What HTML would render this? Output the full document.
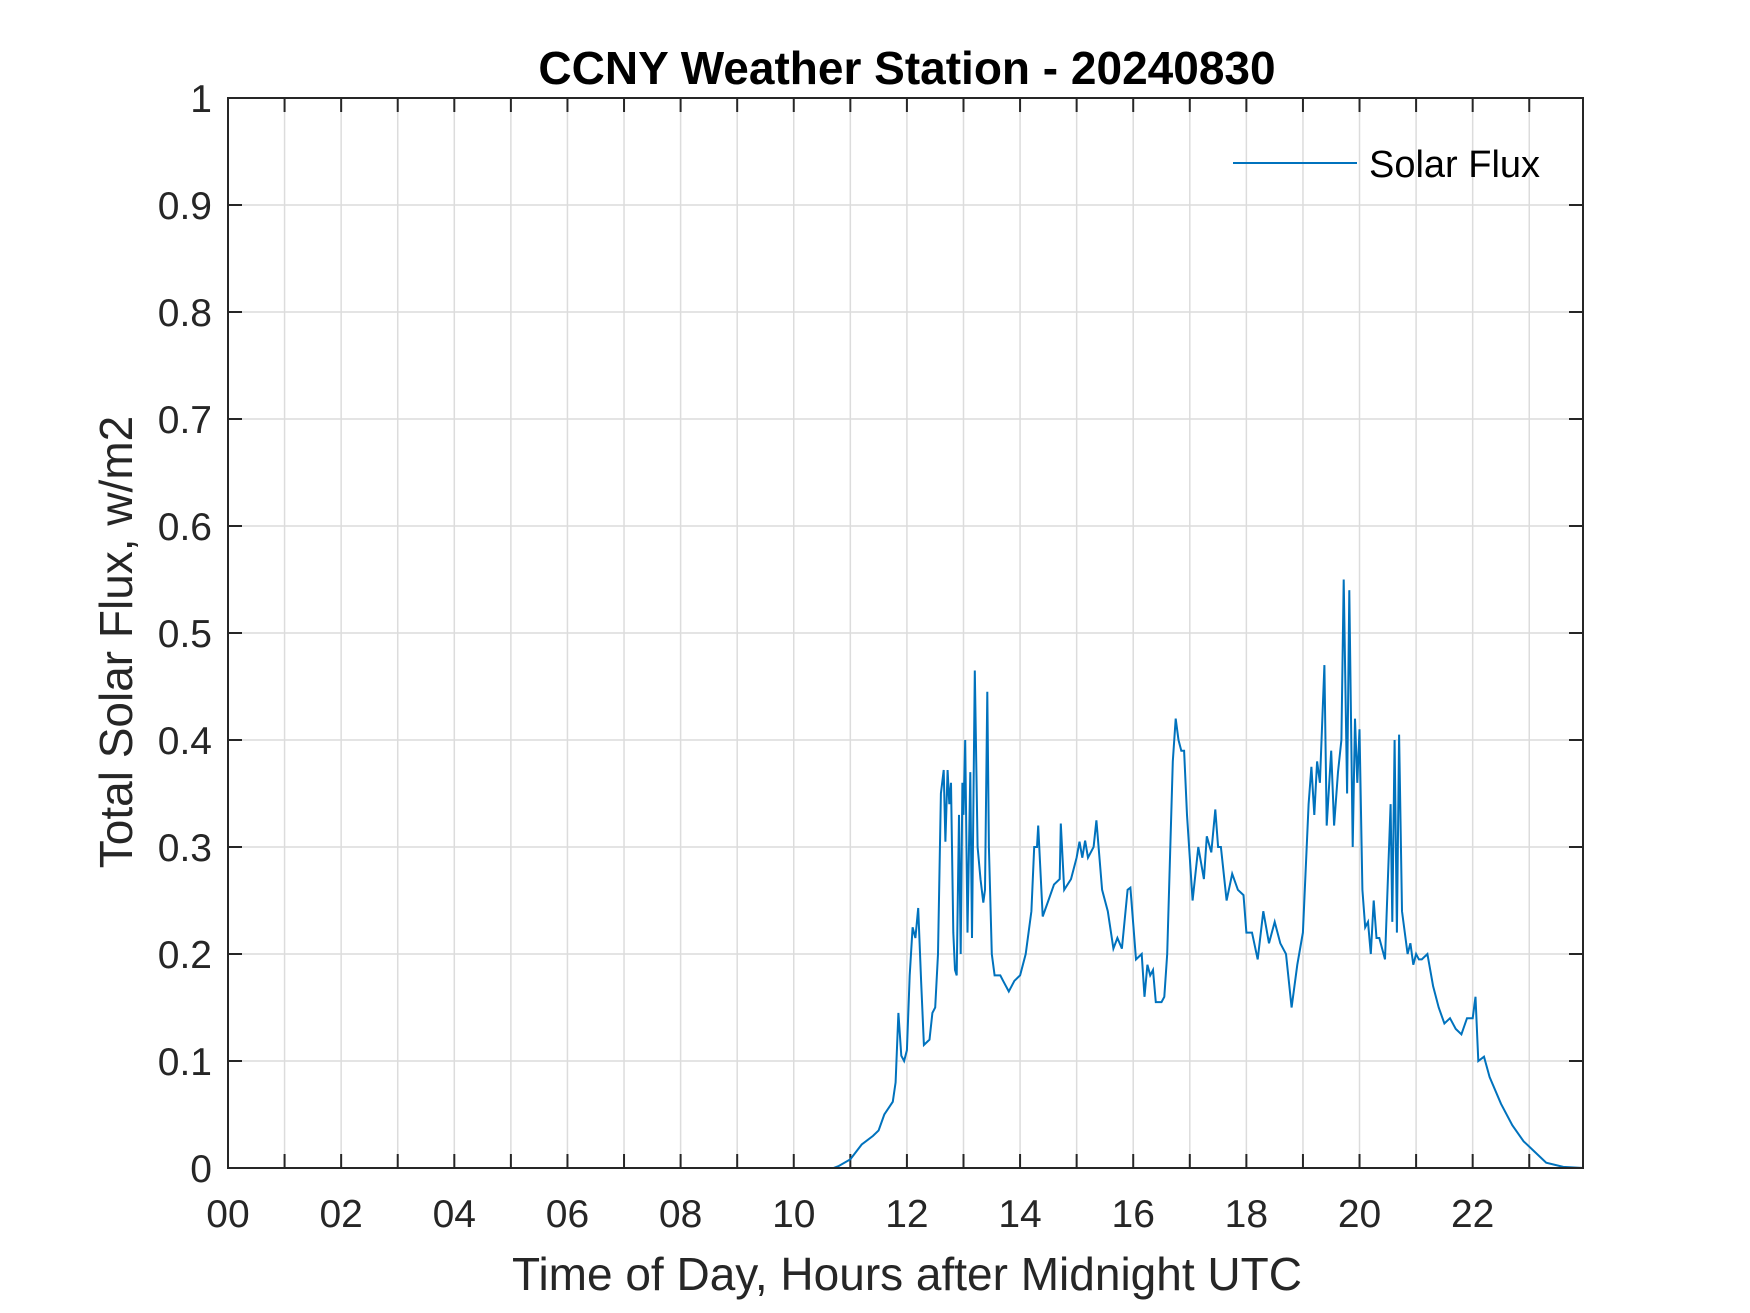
<!DOCTYPE html>
<html><head><meta charset="utf-8"><style>
html,body{margin:0;padding:0;background:#fff;}
svg{display:block;font-family:"Liberation Sans",Arial,sans-serif;}
</style></head><body>
<svg id="chart" width="1750" height="1313" viewBox="0 0 1750 1313" xmlns="http://www.w3.org/2000/svg">
<rect width="1750" height="1313" fill="#fff"/>
<g id="grid"></g>
<g id="ticks"></g>
<path id="series" fill="none" stroke="#0072BD" stroke-width="2"/>
<rect x="228" y="98" width="1355" height="1070" fill="none" stroke="#262626" stroke-width="2"/>
<text x="907" y="84" font-size="46" font-weight="bold" text-anchor="middle" fill="#000">CCNY Weather Station - 20240830</text>
<text x="907" y="1290" font-size="46" text-anchor="middle" fill="#262626">Time of Day, Hours after Midnight UTC</text>
<text transform="translate(132,642) rotate(-90)" font-size="46" text-anchor="middle" fill="#262626">Total Solar Flux, w/m2</text>
<g>
<line x1="1233" y1="163" x2="1357" y2="163" stroke="#0072BD" stroke-width="2"/>
<text x="1369" y="177" font-size="38" fill="#000">Solar Flux</text>
</g>
</svg>
<script>
const hours=[0,10.7,10.8,11.0,11.2,11.4,11.5,11.6,11.75,11.8,11.85,11.9,11.95,12.0,12.05,12.1,12.15,12.2,12.25,12.3,12.4,12.45,12.5,12.55,12.6,12.65,12.68,12.72,12.75,12.78,12.82,12.85,12.88,12.92,12.95,12.98,13.0,13.03,13.07,13.12,13.15,13.2,13.25,13.3,13.35,13.38,13.42,13.45,13.5,13.55,13.65,13.7,13.8,13.9,14.0,14.1,14.2,14.25,14.3,14.32,14.4,14.5,14.6,14.7,14.72,14.78,14.9,15.0,15.05,15.1,15.15,15.2,15.3,15.35,15.45,15.55,15.65,15.72,15.8,15.9,15.95,16.05,16.15,16.2,16.25,16.3,16.35,16.4,16.5,16.55,16.6,16.7,16.75,16.8,16.85,16.9,16.95,17.05,17.15,17.25,17.3,17.38,17.45,17.5,17.55,17.65,17.75,17.85,17.95,18.0,18.1,18.2,18.3,18.4,18.5,18.6,18.7,18.8,18.9,19.0,19.1,19.15,19.2,19.25,19.3,19.38,19.42,19.5,19.55,19.62,19.68,19.72,19.78,19.82,19.88,19.92,19.96,20.0,20.05,20.1,20.15,20.2,20.25,20.3,20.35,20.45,20.55,20.58,20.62,20.66,20.7,20.75,20.8,20.85,20.9,20.95,21.0,21.05,21.1,21.2,21.3,21.4,21.5,21.6,21.7,21.8,21.9,22.0,22.05,22.1,22.2,22.3,22.5,22.7,22.9,23.1,23.3,23.6,23.95];
const flux=[0,0,0.002,0.008,0.022,0.03,0.035,0.05,0.062,0.08,0.145,0.105,0.1,0.11,0.18,0.225,0.215,0.243,0.175,0.115,0.12,0.145,0.15,0.2,0.35,0.372,0.305,0.372,0.34,0.36,0.22,0.185,0.18,0.33,0.2,0.36,0.33,0.4,0.22,0.37,0.215,0.465,0.3,0.27,0.248,0.26,0.445,0.3,0.2,0.18,0.18,0.175,0.165,0.175,0.18,0.2,0.24,0.3,0.3,0.32,0.235,0.25,0.265,0.27,0.322,0.26,0.27,0.29,0.305,0.29,0.306,0.29,0.3,0.325,0.26,0.24,0.205,0.215,0.205,0.26,0.262,0.195,0.2,0.16,0.19,0.18,0.185,0.155,0.155,0.16,0.2,0.38,0.42,0.4,0.39,0.39,0.33,0.25,0.3,0.27,0.31,0.295,0.335,0.3,0.3,0.25,0.275,0.26,0.255,0.22,0.22,0.195,0.24,0.21,0.23,0.21,0.2,0.15,0.19,0.22,0.34,0.375,0.33,0.38,0.36,0.47,0.32,0.39,0.32,0.37,0.4,0.55,0.35,0.54,0.3,0.42,0.36,0.41,0.26,0.225,0.23,0.2,0.25,0.215,0.215,0.195,0.34,0.23,0.4,0.22,0.405,0.24,0.22,0.2,0.21,0.19,0.2,0.195,0.195,0.2,0.17,0.15,0.135,0.14,0.13,0.125,0.14,0.14,0.16,0.1,0.104,0.085,0.06,0.04,0.025,0.015,0.005,0.001,0];
const xTickLabels=["00","02","04","06","08","10","12","14","16","18","20","22"];
const yTickLabels=["0","0.1","0.2","0.3","0.4","0.5","0.6","0.7","0.8","0.9","1"];
const X0=228,X1=1583,Y0=1168,Y1=98,XMAX=23.95;
const xs=h=>X0+(h/XMAX)*(X1-X0);
const ys=v=>Y0-v*(Y0-Y1);
const NS="http://www.w3.org/2000/svg";
const grid=document.getElementById('grid'),ticks=document.getElementById('ticks');
function mk(tag,attrs,parent){const e=document.createElementNS(NS,tag);for(const k in attrs)e.setAttribute(k,attrs[k]);parent.appendChild(e);return e;}
for(let h=1;h<=23;h++){
  const x=xs(h);
  const g=mk('line',{x1:x,y1:Y1,x2:x,y2:Y0,stroke:'#dcdcdc','stroke-width':1.5},grid);
  
  
  const t1=mk('line',{x1:x,y1:Y0,x2:x,y2:Y0-14,stroke:'#262626','stroke-width':2},ticks);
  
  
  const t2=mk('line',{x1:x,y1:Y1,x2:x,y2:Y1+14,stroke:'#262626','stroke-width':2},ticks);
  
  
}
xTickLabels.forEach((l,i)=>{
  const t=mk('text',{x:xs(i*2),y:1227,'font-size':39,'text-anchor':'middle',fill:'#262626'},ticks);
  t.textContent=l;
  
  
});
yTickLabels.forEach((l,i)=>{
  const v=i/10,y=ys(v);
  if(i>0&&i<10){
    const g=mk('line',{x1:X0,y1:y,x2:X1,y2:y,stroke:'#dcdcdc','stroke-width':1.5},grid);
    
    
  }
  const a=mk('line',{x1:X0,y1:y,x2:X0+14,y2:y,stroke:'#262626','stroke-width':2},ticks);
  
  
  const b=mk('line',{x1:X1,y1:y,x2:X1-14,y2:y,stroke:'#262626','stroke-width':2},ticks);
  
  
  const t=mk('text',{x:212,y:y+14,'font-size':39,'text-anchor':'end',fill:'#262626'},ticks);
  t.textContent=l;
  
  
});
document.getElementById('series').setAttribute('d',hours.map((h,i)=>(i?'L':'M')+xs(h).toFixed(1)+','+ys(flux[i]).toFixed(1)).join(''));
</script>
</body></html>
